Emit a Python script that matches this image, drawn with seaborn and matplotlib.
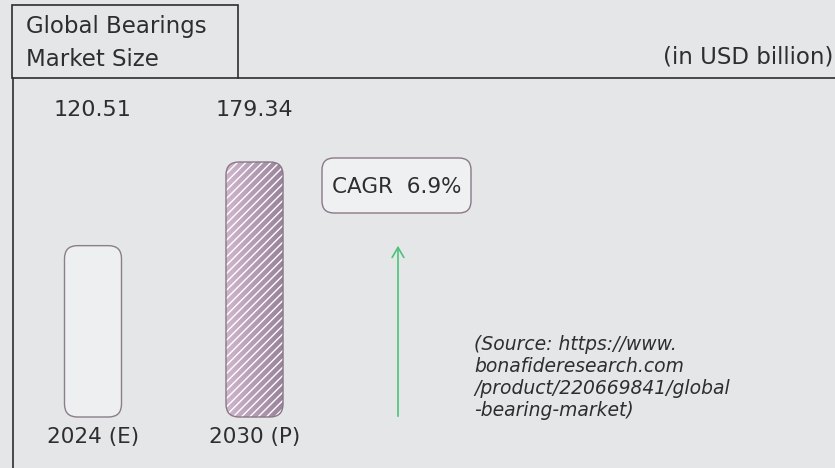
import numpy as np
import pandas as pd
import matplotlib
matplotlib.use("Agg")
import matplotlib.pyplot as plt
import seaborn as sns
from matplotlib.patches import FancyBboxPatch, Rectangle
from matplotlib.colors import LinearSegmentedColormap
from matplotlib.transforms import blended_transform_factory

# ---- data ----
years = ["2024 (E)", "2030 (P)"]
market_size = [120.51, 179.34]
cagr_text = "CAGR  6.9%"
title_lines = ["Global Bearings", "Market Size"]
unit_text = "(in USD billion)"
source_text = ("(Source: https://www.\nbonafideresearch.com\n"
               "/product/220669841/global\n-bearing-market)")

# ---- style ----
W, H = 835, 468
BG = "#e5e6e8"
INK = "#2e2e30"
sns.set_theme(style="white")
plt.rcParams["font.family"] = ["DejaVu Sans"]
plt.rcParams["hatch.linewidth"] = 1.0

fig = plt.figure(figsize=(W / 100, H / 100), dpi=100)
fig.patch.set_facecolor(BG)

# pixel-space layer for the frame and captions
ov = fig.add_axes([0, 0, 1, 1])
ov.set_xlim(0, W)
ov.set_ylim(H, 0)
ov.axis("off")
ov.patch.set_alpha(0)

ov.add_patch(Rectangle((12, 5), 226, 73, fill=False, edgecolor=INK, lw=1.2))
ov.plot([238, W], [78, 78], color=INK, lw=1.2)
ov.plot([13, 13], [78, H], color=INK, lw=1.2)

ov.text(26, 27, title_lines[0], fontsize=16.5, color=INK, va="center", ha="left")
ov.text(26, 60, title_lines[1], fontsize=16.5, color=INK, va="center", ha="left")
ov.text(833, 57, unit_text, fontsize=16.5, color=INK, va="center", ha="right")

# CAGR badge
ov.add_patch(FancyBboxPatch((322, 158), 149, 55,
                            boxstyle="round,pad=0,rounding_size=12",
                            facecolor="#eef0f2", edgecolor="#8a7888", lw=1))
ov.text(397, 187, cagr_text, fontsize=15.5, color=INK, ha="center", va="center")

# growth arrow
ov.annotate("", xy=(398, 243), xytext=(398, 419),
            arrowprops=dict(arrowstyle="->,head_length=0.6,head_width=0.35",
                            color="#4cc27a", lw=1.2))

ov.text(474, 335, source_text, fontsize=13.5, style="italic", color=INK,
        ha="left", va="top", linespacing=1.2)

# ---- bars ----
ax = fig.add_axes([13 / W, 0, (W - 13) / W, (H - 78) / H])
ax.patch.set_alpha(0)
df = pd.DataFrame({"year": years, "size": market_size})
sns.barplot(data=df, x="year", y="size", ax=ax, width=0.353,
            color="#eeeff1", saturation=1)

px_per_cat = 161.5
px_per_val = (417 - 162) / 179.34
xlim = (-(93 - 13) / px_per_cat, (W - 93) / px_per_cat)
ylim = (-(H - 417) / px_per_val, (417 - 78) / px_per_val)

radius_px = 13
rx = radius_px / px_per_cat
aspect = (radius_px / px_per_val) / rx

bars = list(ax.patches)
for i, bar in enumerate(bars):
    x, y = bar.get_x(), bar.get_y()
    w, h = bar.get_width(), bar.get_height()
    bar.remove()
    style = f"round,pad=0,rounding_size={rx}"
    if i == 0:
        ax.add_patch(FancyBboxPatch((x, y), w, h, boxstyle=style,
                                    mutation_aspect=aspect,
                                    facecolor="#eeeff1", edgecolor="#8c7d8a",
                                    lw=1, zorder=2))
    else:
        clip = FancyBboxPatch((x, y), w, h, boxstyle=style,
                              mutation_aspect=aspect, facecolor="none",
                              edgecolor="none", transform=ax.transData)
        ax.add_patch(clip)
        cmap = LinearSegmentedColormap.from_list("mauve", ["#cfb6cd", "#98829a"])
        im = ax.imshow(np.linspace(0, 1, 256).reshape(1, -1), cmap=cmap,
                       extent=[x, x + w, y, y + h], aspect="auto",
                       origin="lower", zorder=2)
        im.set_clip_path(clip)
        ax.add_patch(FancyBboxPatch((x, y), w, h, boxstyle=style,
                                    mutation_aspect=aspect, facecolor="none",
                                    edgecolor="white", hatch="////", lw=0,
                                    zorder=3))
        ax.add_patch(FancyBboxPatch((x, y), w, h, boxstyle=style,
                                    mutation_aspect=aspect, facecolor="none",
                                    edgecolor="#8a7788", lw=1, zorder=4))

ax.set_xlim(*xlim)
ax.set_ylim(*ylim)

trans = blended_transform_factory(ax.transData, ax.transAxes)
for i, (yr, v) in enumerate(zip(years, market_size)):
    ax.text(i, (H - 110) / (H - 78), f"{v:.2f}", transform=trans,
            ha="center", va="center", fontsize=16, color=INK)
    ax.text(i, (H - 437) / (H - 78), yr, transform=trans,
            ha="center", va="center", fontsize=15.5, color=INK)

ax.set_xticks([])
ax.set_yticks([])
ax.set_xlabel("")
ax.set_ylabel("")
sns.despine(ax=ax, left=True, bottom=True)

fig.savefig("out.png", dpi=100, facecolor=BG)
